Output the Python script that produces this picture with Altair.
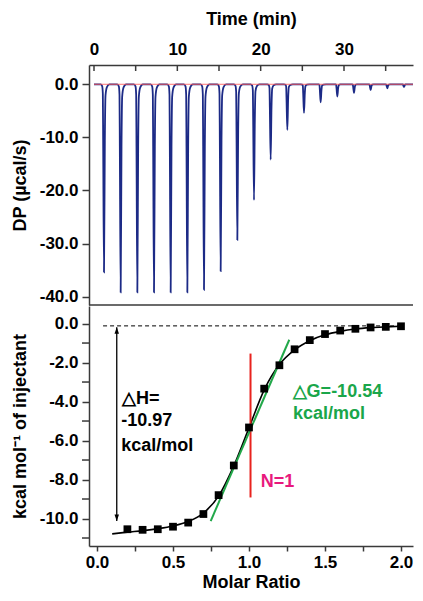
import altair as alt
import pandas as pd

# ---------------- data: raw thermogram (top) ----------------
inj_time = [1.1, 3.1, 5.1, 7.1, 9.1, 11.1, 13.1, 15.1, 17.1, 19.1,
            21.1, 23.1, 25.1, 27.1, 29.1, 31.1, 33.1, 35.1, 37.1]
peak_dp = [-35.4, -39.2, -39.2, -39.2, -39.2, -39.2, -38.7, -35.2, -29.3, -21.8,
           -14.2, -8.6, -5.4, -3.4, -2.3, -1.6, -1.1, -0.75, -0.5]
# outline of one injection peak: time offset (min) and fraction of that peak's depth
spike_dt = [-0.30, -0.12, -0.04, 0.00, 0.10, 0.20, 0.28, 0.45, 0.75]
spike_frac = [0.0, 0.01, 0.05, 0.30, 1.0, 0.30, 0.06, 0.015, 0.0]
trace_span = [0.0, 38.9]
time_ticks = [0, 5, 10, 15, 20, 25, 30, 35]
time_labels = [0, 10, 20, 30]
dp_ticks = [-40, -35, -30, -25, -20, -15, -10, -5, 0]

# ---------------- data: binding isotherm (bottom) ----------------
molar_ratio = [0.2, 0.3, 0.4, 0.5, 0.6, 0.7, 0.8, 0.9, 1.0, 1.1,
               1.2, 1.3, 1.4, 1.5, 1.6, 1.7, 1.8, 1.9, 2.0]
heat = [-10.55, -10.58, -10.55, -10.42, -10.21, -9.77, -8.80, -7.28, -5.33, -3.34,
        -2.14, -1.32, -0.85, -0.54, -0.36, -0.27, -0.20, -0.17, -0.14]
fit_ratio = [0.1, 0.2, 0.3, 0.4, 0.5, 0.6, 0.7, 0.8, 0.9, 1.0,
             1.1, 1.2, 1.3, 1.4, 1.5, 1.6, 1.7, 1.8, 1.9, 2.0]
fit_heat = [-10.79, -10.70, -10.62, -10.52, -10.38, -10.15, -9.72, -8.85, -7.30, -5.35,
            -3.40, -2.10, -1.35, -0.88, -0.58, -0.40, -0.28, -0.21, -0.17, -0.14]
tangent_ratio = [0.748, 1.265]
tangent_heat = [-10.13, -0.83]
n_ratio = [1.01, 1.01]
n_heat = [-1.54, -8.92]
base_ratio = [0.04, 2.0]
base_heat = [-0.12, -0.12]
arrow_ratio = [0.13, 0.13]
arrow_heat = [-0.19, -10.13]
ratio_ticks = [0, 0.25, 0.5, 0.75, 1.0, 1.25, 1.5, 1.75, 2.0]
heat_labels = [-10, -8, -6, -4, -2, 0]
heat_minor = [-11, -9, -7, -5, -3, -1]

ann_text = ["△H=", "-10.97", "kcal/mol", "△G=-10.54", "kcal/mol", "N=1"]
ann_x = [0.165, 0.16, 0.16, 1.287, 1.29, 1.077]
ann_y = [-3.87, -4.99, -6.26, -3.49, -4.65, -8.13]
ann_color = ["black", "black", "black", "#1aa64a", "#1aa64a", "#e8197d"]

# ---------------- build tables ----------------
rows = [{"t": trace_span[0], "dp": 0.0}]
for t0, d in zip(inj_time, peak_dp):
    for dt, f in zip(spike_dt, spike_frac):
        rows.append({"t": t0 + dt, "dp": d * f})
rows.append({"t": trace_span[1], "dp": 0.0})
trace_df = pd.DataFrame(rows)

FONT = "Liberation Sans"
AX = "#3a3a3a"
W = 324
H1 = 240
H2 = 240

minus_fix = "replace(format(datum.value, '.1f'), '\u2212', '-')"

xs_top = alt.Scale(domain=[-0.6, 38.28], nice=False, zero=False)
ys_top = alt.Scale(domain=[-41.56, 3.63], nice=False, zero=False)

top_x_axis = alt.Axis(orient="top", values=time_labels, format="d", title="Time (min)",
                      tickSize=0, labelPadding=7, titlePadding=12, grid=False,
                      labelOverlap=False)
top_y_axis = alt.Axis(values=dp_ticks, title="DP (µcal/s)", tickSize=7,
                      labelExpr=f"datum.value % 10 == 0 ? {minus_fix} : ''",
                      labelPadding=4, minExtent=51, maxExtent=51, titlePadding=9,
                      grid=False, labelOverlap=False)

trace = alt.Chart(trace_df).mark_line(
    color="#1c2a86", strokeWidth=1.8, interpolate="monotone", clip=True
).encode(
    x=alt.X("t:Q", scale=xs_top, axis=top_x_axis),
    y=alt.Y("dp:Q", scale=ys_top, axis=top_y_axis),
)

baseline = alt.Chart(pd.DataFrame({"t": trace_span, "dp": [0.0, 0.0]})).mark_line(
    color="#ff5a5a", strokeWidth=1, opacity=0.85, clip=True
).encode(x="t:Q", y="dp:Q")

top_ticks = alt.Chart(pd.DataFrame({"t": time_ticks})).mark_rule(
    color=AX, strokeWidth=1.5
).encode(x="t:Q", y=alt.value(0), y2=alt.value(6))

divider = alt.Chart(pd.DataFrame({"a": [0]})).mark_rule(
    color=AX, strokeWidth=1.5
).encode(x=alt.value(0), x2=alt.value(W), y=alt.value(H1))

top = alt.layer(trace, baseline, top_ticks, divider).properties(width=W, height=H1)

# ---------------- bottom panel ----------------
xs_bot = alt.Scale(domain=[-0.0526, 2.079], nice=False, zero=False)
ys_bot = alt.Scale(domain=[-11.41, 0.90], nice=False, zero=False)

bot_x_axis = alt.Axis(values=ratio_ticks, title="Molar Ratio", tickSize=5,
                      labelExpr=f"round(datum.value * 100) % 50 == 0 ? {minus_fix} : ''",
                      labelPadding=3, titlePadding=3, grid=False, labelOverlap=False)
bot_y_axis = alt.Axis(values=heat_labels, title="kcal mol⁻¹ of injectant", tickSize=7,
                      labelExpr=minus_fix,
                      labelPadding=4, minExtent=51, maxExtent=51, titlePadding=9,
                      grid=False, labelOverlap=False)

pts_df = pd.DataFrame({"r": molar_ratio, "h": heat})
fit_df = pd.DataFrame({"r": fit_ratio, "h": fit_heat})

fit = alt.Chart(fit_df).mark_line(color="black", strokeWidth=1.6, interpolate="monotone").encode(
    x=alt.X("r:Q", scale=xs_bot, axis=bot_x_axis),
    y=alt.Y("h:Q", scale=ys_bot, axis=bot_y_axis),
)

minor_y = alt.Chart(pd.DataFrame({"h": heat_minor})).mark_rule(
    color=AX, strokeWidth=1.5
).encode(y="h:Q", x=alt.value(-7), x2=alt.value(0))

dashed = alt.Chart(pd.DataFrame({"r": base_ratio, "h": base_heat})).mark_line(
    color="black", strokeWidth=1, strokeDash=[4, 3]
).encode(x="r:Q", y="h:Q")

arrow_line = alt.Chart(pd.DataFrame({"r": arrow_ratio, "h": arrow_heat})).mark_line(
    color="black", strokeWidth=1.3
).encode(x="r:Q", y="h:Q")

arrow_up = alt.Chart(pd.DataFrame({"r": [arrow_ratio[0]], "h": [arrow_heat[0]]})).mark_point(
    shape="M0,0 L-0.75,2.2 L0.75,2.2 Z", filled=True, color="black", size=36, opacity=1
).encode(x="r:Q", y="h:Q")

arrow_down = alt.Chart(pd.DataFrame({"r": [arrow_ratio[1]], "h": [arrow_heat[1]]})).mark_point(
    shape="M0,0 L-0.75,-2.2 L0.75,-2.2 Z", filled=True, color="black", size=36, opacity=1
).encode(x="r:Q", y="h:Q")

n_line = alt.Chart(pd.DataFrame({"r": n_ratio, "h": n_heat})).mark_line(
    color="#e8231e", strokeWidth=2
).encode(x="r:Q", y="h:Q")

tangent = alt.Chart(pd.DataFrame({"r": tangent_ratio, "h": tangent_heat})).mark_line(
    color="#22a84a", strokeWidth=2
).encode(x="r:Q", y="h:Q")

squares = alt.Chart(pts_df).mark_square(color="black", size=60, opacity=1).encode(
    x="r:Q", y="h:Q"
)

ann = alt.Chart(pd.DataFrame({"r": ann_x, "h": ann_y, "txt": ann_text, "c": ann_color})).mark_text(
    font=FONT, fontWeight="bold", fontSize=18, align="left", baseline="middle"
).encode(
    x="r:Q", y="h:Q", text="txt:N", color=alt.Color("c:N", scale=None)
)

bottom = alt.layer(
    fit, minor_y, dashed, arrow_line, arrow_up, arrow_down, n_line, tangent, squares, ann
).properties(width=W, height=H2)

chart = alt.vconcat(top, bottom, spacing=0).properties(
    padding={"left": 3, "top": 2, "right": 0, "bottom": 0}
).configure_view(stroke=None).configure_axis(
    labelFont=FONT, labelFontWeight="bold", labelFontSize=17, labelColor="black",
    titleFont=FONT, titleFontWeight="bold", titleFontSize=18, titleColor="black",
    domainColor=AX, domainWidth=1.5, tickColor=AX, tickWidth=1.5,
)

chart.save("out.html", embed_options={"renderer": "svg", "actions": False})
